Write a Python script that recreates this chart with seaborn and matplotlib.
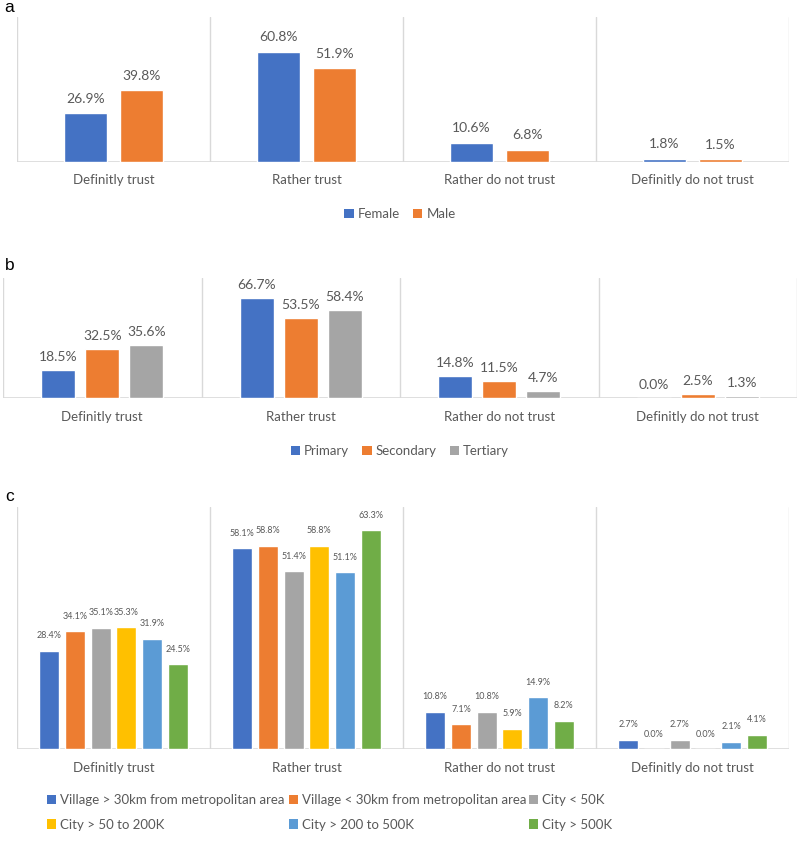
import matplotlib
matplotlib.use("Agg")
import matplotlib.pyplot as plt
from matplotlib.patches import Patch
import seaborn as sns
import pandas as pd

categories = ["Definitly trust", "Rather trust", "Rather do not trust", "Definitly do not trust"]

gender_groups = ["Female", "Male"]
female = [26.9, 60.8, 10.6, 1.8]
male = [39.8, 51.9, 6.8, 1.5]

edu_groups = ["Primary", "Secondary", "Tertiary"]
primary = [18.5, 66.7, 14.8, 0.0]
secondary = [32.5, 53.5, 11.5, 2.5]
tertiary = [35.6, 58.4, 4.7, 1.3]

place_groups = ["Village > 30km from metropolitan area", "Village < 30km from metropolitan area",
                "City < 50K", "City > 50 to 200K", "City > 200 to 500K", "City > 500K"]
village_far = [28.4, 58.1, 10.8, 2.7]
village_near = [34.1, 58.8, 7.1, 0.0]
city_50 = [35.1, 51.4, 10.8, 2.7]
city_50_200 = [35.3, 58.8, 5.9, 0.0]
city_200_500 = [31.9, 51.1, 14.9, 2.1]
city_500 = [24.5, 63.3, 8.2, 4.1]

colors = ["#4472C4", "#ED7D31", "#A5A5A5", "#FFC000", "#5B9BD5", "#70AD47"]
TXT = "#595959"
GRID = "#d9d9d9"

sns.set_theme(style="white")
plt.rcParams["font.family"] = ["Lato", "DejaVu Sans"]

W, H = 800, 846
fig = plt.figure(figsize=(W / 100, H / 100), dpi=100)


def make_df(groups, series):
    rows = []
    for g, vals in zip(groups, series):
        for c, v in zip(categories, vals):
            rows.append({"cat": c, "group": g, "val": v})
    return pd.DataFrame(rows)


def px_axes(x0, x1, ytop, ybot):
    return fig.add_axes([x0 / W, 1 - ybot / H, (x1 - x0) / W, (ybot - ytop) / H])


def draw(ax, groups, series, ymax, width, gap, lblsize, lblpad):
    df = make_df(groups, series)
    sns.barplot(data=df, x="cat", y="val", hue="group", hue_order=groups,
                palette=colors[:len(groups)], width=width, gap=gap, ax=ax,
                legend=False, saturation=1, errorbar=None)
    for cont in ax.containers:
        ax.bar_label(cont, fmt="%.1f%%", padding=lblpad, fontsize=lblsize, color=TXT)
    ax.set_xlim(-0.5, 3.5)
    ax.set_ylim(0, ymax)
    for x in [-0.5, 0.5, 1.5, 2.5, 3.5]:
        ax.axvline(x, color=GRID, lw=1, zorder=0)
    ax.axhline(0, color=GRID, lw=1.2, zorder=0)
    for s in ax.spines.values():
        s.set_visible(False)
    ax.set_yticks([])
    ax.set_xlabel("")
    ax.set_ylabel("")
    ax.tick_params(axis="x", length=0, pad=9, labelsize=9.5, labelcolor=TXT)


# Panel a
ax_a = px_axes(17, 789, 17, 162)
draw(ax_a, gender_groups, [female, male], 80, 0.58, 0.23, 10, 6)
# Panel b
ax_b = px_axes(3, 797, 278, 398)
draw(ax_b, edu_groups, [primary, secondary, tertiary], 80, 0.665, 0.23, 10, 5)
# Panel c
ax_c = px_axes(17, 789, 507, 749)
draw(ax_c, place_groups, [village_far, village_near, city_50, city_50_200, city_200_500, city_500],
     70, 0.80, 0.22, 6.5, 7.5)

for lbl, x, y in [("a", 4, 8), ("b", 5, 265), ("c", 5, 496)]:
    fig.text(x / W, 1 - y / H, lbl, fontsize=12.5, color="black", va="center", ha="left",
             family=["Liberation Sans", "DejaVu Sans"])


def handles(groups):
    return [Patch(facecolor=colors[i], edgecolor="none", label=g) for i, g in enumerate(groups)]


leg_kw = dict(frameon=False, handlelength=0.7, handleheight=0.7, handletextpad=0.3,
              labelcolor=TXT, fontsize=9.5)
fig.legend(handles=handles(gender_groups), ncol=2, columnspacing=1.0, loc="center",
           bbox_to_anchor=(0.5, 1 - 214 / H), **leg_kw)
fig.legend(handles=handles(edu_groups), ncol=3, columnspacing=1.0, loc="center",
           bbox_to_anchor=(0.5, 1 - 451 / H), **leg_kw)

# Panel c legend: three equal-width columns, filled row by row
hc = handles(place_groups)
col_x = [47, 289, 529]
for ci, x in enumerate(col_x):
    fig.legend(handles=[hc[ci], hc[ci + 3]], ncol=1, loc="upper left", borderpad=0,
               borderaxespad=0, labelspacing=0.95,
               bbox_to_anchor=(x / W, 1 - 794 / H), **leg_kw)

fig.savefig("out.png", dpi=100)
